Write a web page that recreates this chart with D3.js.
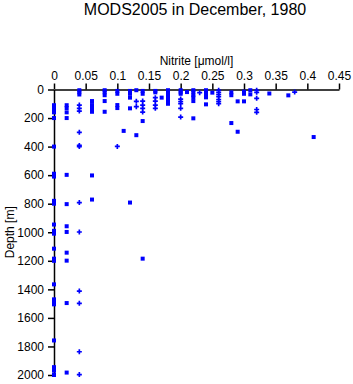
<!DOCTYPE html>
<html>
<head>
<meta charset="utf-8">
<script src="https://cdn.jsdelivr.net/npm/d3@7"></script>
<style>
  body { margin: 0; background: #fff; }
  svg text { font-family: "Liberation Sans", Arial, sans-serif; fill: #000; }
</style>
</head>
<body>
<div id="chart"></div>
<script>
'use strict';

// [nitrite, depth] pairs
const squarePoints = [
  [0, 110], [0, 130], [0, 150], [0, 160], [0, 200], [0, 400], [0, 590], [0, 610],
  [0, 780], [0, 800], [0, 946], [0, 990], [0, 1010], [0, 1115], [0, 1185], [0, 1200],
  [0, 1365], [0, 1470], [0, 1490], [0, 1505], [0, 1758], [0, 1945], [0, 1970], [0, 2000],
  [0.02, 110], [0.02, 130], [0.02, 160], [0.02, 200], [0.02, 598], [0.02, 803],
  [0.02, 958], [0.02, 998], [0.02, 1143], [0.02, 1199], [0.02, 1496], [0.02, 1983],
  [0.04, 5], [0.04, 20], [0.04, 35],
  [0.06, 81], [0.06, 109], [0.06, 132], [0.06, 156], [0.06, 602], [0.06, 771],
  [0.08, 5], [0.08, 20], [0.08, 40], [0.08, 81], [0.08, 156],
  [0.1, 10], [0.1, 30], [0.1, 109], [0.1, 130],
  [0.11, 290],
  [0.12, 10], [0.12, 30], [0.12, 57], [0.12, 132], [0.12, 792],
  [0.13, 5], [0.13, 320],
  [0.14, 10], [0.14, 30], [0.14, 221], [0.14, 1185],
  [0.16, 10], [0.16, 20],
  [0.17, 57],
  [0.18, 5], [0.18, 20], [0.18, 40], [0.18, 60], [0.18, 80], [0.18, 100],
  [0.2, 5], [0.2, 20], [0.2, 30],
  [0.21, 18],
  [0.22, 5], [0.22, 20], [0.22, 40], [0.22, 55], [0.22, 81], [0.22, 202],
  [0.24, 5], [0.24, 20], [0.24, 40], [0.24, 55], [0.24, 104],
  [0.25, 22],
  [0.28, 20], [0.28, 40], [0.28, 235],
  [0.29, 83], [0.29, 296],
  [0.3, 15], [0.3, 30], [0.3, 83],
  [0.31, 5], [0.31, 34],
  [0.34, 28],
  [0.37, 41],
  [0.41, 333]
];

const crossPoints = [
  [0.04, 109], [0.04, 132], [0.04, 151], [0.04, 300], [0.04, 392], [0.04, 400],
  [0.04, 792], [0.04, 998], [0.04, 1412], [0.04, 1498], [0.04, 1837], [0.04, 1997],
  [0.1, 399],
  [0.13, 83], [0.13, 120],
  [0.14, 81], [0.14, 109], [0.14, 132], [0.14, 158],
  [0.16, 57], [0.16, 81], [0.16, 109], [0.16, 132],
  [0.2, 67], [0.2, 85], [0.2, 100], [0.2, 132], [0.2, 193],
  [0.23, 22],
  [0.26, 5], [0.26, 20], [0.26, 35], [0.26, 50], [0.26, 70], [0.26, 85], [0.26, 100],
  [0.32, 5], [0.32, 20], [0.32, 62], [0.32, 140], [0.32, 160],
  [0.38, 18]
];

const xTicks = [0, 0.05, 0.1, 0.15, 0.2, 0.25, 0.3, 0.35, 0.4, 0.45];
const yTicks = [0, 200, 400, 600, 800, 1000, 1200, 1400, 1600, 1800, 2000];

const width  = 353;
const height = 384;
const colour = '#0000ff';

const svg = d3.select('#chart').append('svg')
    .attr('width', width)
    .attr('height', height);

const x = d3.scaleLinear().domain([0, 0.45]).range([54, 339]);
const y = d3.scaleLinear().domain([0, 2000]).range([89.5, 375]);

// title
svg.append('text')
    .attr('x', 195)
    .attr('y', 15)
    .attr('text-anchor', 'middle')
    .style('font-size', '16px')
    .text('MODS2005 in December, 1980');

// x axis on top
const xAxis = svg.append('g')
    .attr('transform', 'translate(0,' + y(0) + ')')
    .call(d3.axisTop(x).tickValues(xTicks).tickFormat(d3.format('')).tickSize(6).tickPadding(4).tickSizeOuter(0));

// y axis
const yAxis = svg.append('g')
    .attr('transform', 'translate(' + x(0) + ',0)')
    .call(d3.axisLeft(y).tickValues(yTicks).tickFormat(d3.format('d')).tickSize(6).tickPadding(4).tickSizeOuter(0));

[xAxis, yAxis].forEach(function(g) {
    g.selectAll('path, line').attr('stroke', '#000').attr('stroke-width', 1.5);
    g.selectAll('text')
        .style('font-family', '"Liberation Sans", Arial, sans-serif')
        .style('font-size', '12px');
});

svg.append('text')
    .attr('x', (x(0) + x(0.45)) / 2)
    .attr('y', 65)
    .attr('text-anchor', 'middle')
    .style('font-size', '12px')
    .text('Nitrite [\u03bcmol/l]');

svg.append('text')
    .attr('transform', 'translate(14,' + ((y(0) + y(2000)) / 2) + ') rotate(-90)')
    .attr('text-anchor', 'middle')
    .style('font-size', '12px')
    .text('Depth [m]');

// data marks
svg.append('g').selectAll('rect')
    .data(squarePoints)
    .enter()
    .append('rect')
    .attr('x', function(d) { return x(d[0]) - 2 })
    .attr('y', function(d) { return y(d[1]) - 2 })
    .attr('width', 4)
    .attr('height', 4)
    .attr('fill', colour);

const cross = d3.symbol().type(d3.symbolCross).size(14);
svg.append('g').selectAll('path')
    .data(crossPoints)
    .enter()
    .append('path')
    .attr('d', cross)
    .attr('transform', function(d) { return 'translate(' + x(d[0]) + ',' + y(d[1]) + ')' })
    .attr('fill', colour);
</script>
</body>
</html>
